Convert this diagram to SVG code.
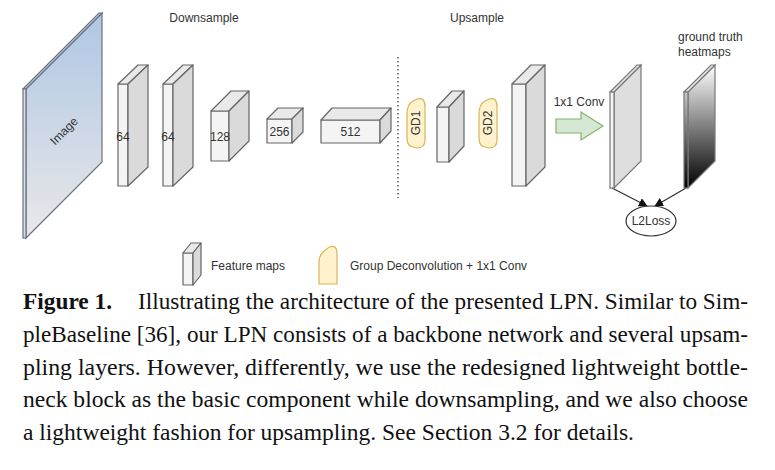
<svg xmlns="http://www.w3.org/2000/svg" width="775" height="470" viewBox="0 0 775 470">
<defs>
<linearGradient id="gImg" x1="0" y1="13" x2="0" y2="238" gradientUnits="userSpaceOnUse">
<stop offset="0" stop-color="#afc6e4"/><stop offset="1" stop-color="#e8e8e8"/>
</linearGradient>
<linearGradient id="gGT" x1="0" y1="65" x2="0" y2="188" gradientUnits="userSpaceOnUse">
<stop offset="0" stop-color="#ffffff"/><stop offset="1" stop-color="#000000"/>
</linearGradient>
<marker id="ah" viewBox="0 0 10 10" refX="9" refY="5" markerWidth="9" markerHeight="9" orient="auto" markerUnits="userSpaceOnUse">
<path d="M0,0 L10,5 L0,10 Z" fill="#111"/>
</marker>
<style>
.fr{fill:#f4f4f4;stroke:#666;stroke-width:1.2;stroke-linejoin:round}
.tp{fill:#e9e9e9;stroke:#666;stroke-width:1.2;stroke-linejoin:round}
.sd{fill:#dadada;stroke:#666;stroke-width:1.2;stroke-linejoin:round}
.lbl{font-family:"Liberation Sans",Arial,sans-serif;font-size:12px;fill:#333}
.gd{fill:#fff2cc;stroke:#d6b656;stroke-width:1.2}
.cap{font-family:"Liberation Serif","Times New Roman",serif;font-size:23px;fill:#111}
.con{stroke:#333;stroke-width:1.3;fill:none}
</style>
</defs>
<rect width="775" height="470" fill="#fff"/>

<text class="lbl" x="204" y="22" text-anchor="middle">Downsample</text>
<text class="lbl" x="477" y="22" text-anchor="middle">Upsample</text>

<g id="image">
<polygon points="26,89 102,13 102,162 26,238" fill="url(#gImg)" stroke="#6a7280" stroke-width="1.2"/>
<polygon points="23,89 26,89 102,13 99,13" fill="#c8d4e4" stroke="#6a7280" stroke-width="1.2"/>
<rect x="23" y="89" width="3" height="149" fill="#d8dde4" stroke="#6a7280" stroke-width="1.2"/>
<text class="lbl" x="64" y="135" text-anchor="middle" font-size="11" transform="rotate(-45 64 131)">Image</text>
</g>

<g id="b64a">
<rect class="fr" x="118" y="84" width="10" height="102"/>
<polygon class="tp" points="118,84 128,84 148,65 138,65"/>
<polygon class="sd" points="128,84 148,65 148,167 128,186"/>
<text class="lbl" x="123" y="141" text-anchor="middle">64</text>
</g>
<g id="b64b">
<rect class="fr" x="163" y="84" width="10" height="102"/>
<polygon class="tp" points="163,84 173,84 193,65 183,65"/>
<polygon class="sd" points="173,84 193,65 193,167 173,186"/>
<text class="lbl" x="168" y="141" text-anchor="middle">64</text>
</g>
<g id="b128">
<rect class="fr" x="211" y="111" width="18" height="50"/>
<polygon class="tp" points="211,111 229,111 249,91 231,91"/>
<polygon class="sd" points="229,111 249,91 249,141 229,161"/>
<text class="lbl" x="220" y="141" text-anchor="middle">128</text>
</g>
<g id="b256">
<rect class="fr" x="267" y="119" width="25" height="24"/>
<polygon class="tp" points="267,119 292,119 303,108 278,108"/>
<polygon class="sd" points="292,119 303,108 303,132 292,143"/>
<text class="lbl" x="279.5" y="136" text-anchor="middle">256</text>
</g>
<g id="b512">
<rect class="fr" x="321" y="120" width="59" height="23"/>
<polygon class="tp" points="321,120 380,120 391,108 332,108"/>
<polygon class="sd" points="380,120 391,108 391,131 380,143"/>
<text class="lbl" x="350.5" y="136" text-anchor="middle">512</text>
</g>

<g id="connectors">
<line x1="398" y1="57" x2="398" y2="198" stroke="#333" stroke-width="1.2" stroke-dasharray="1.5 2.5"/>
<polygon points="556,119 581,119 581,112 603,126 581,140 581,133 556,133" fill="#d5e8d4" stroke="#82b366" stroke-width="1.2"/>
<line class="con" x1="612" y1="188" x2="647" y2="206" marker-end="url(#ah)"/>
<line class="con" x1="686" y1="188" x2="655" y2="206" marker-end="url(#ah)"/>
</g>

<g id="gd1">
<path class="gd" d="M407,114 Q407,104 413,101 L417,99 Q425,97 425,106 L425,140 Q425,148 417,148 L413,147 Q407,146 407,138 Z"/>
<text class="lbl" x="416" y="123" text-anchor="middle" dominant-baseline="central" transform="rotate(-90 416 123)">GD1</text>
</g>
<g id="up1">
<rect class="fr" x="437" y="107" width="12" height="55"/>
<polygon class="tp" points="437,107 449,107 464,91 452,91"/>
<polygon class="sd" points="449,107 464,91 464,146 449,162"/>
</g>
<g id="gd2">
<path class="gd" d="M479,114 Q479,104 485,101 L489,99 Q497,97 497,106 L497,140 Q497,148 489,148 L485,147 Q479,146 479,138 Z"/>
<text class="lbl" x="488" y="123" text-anchor="middle" dominant-baseline="central" transform="rotate(-90 488 123)">GD2</text>
</g>
<g id="up2">
<rect class="fr" x="512" y="84" width="14" height="102"/>
<polygon class="tp" points="512,84 526,84 545,65 531,65"/>
<polygon class="sd" points="526,84 545,65 545,167 526,186"/>
</g>

<text class="lbl" x="579" y="106" text-anchor="middle">1x1 Conv</text>

<g id="output">
<polygon points="614,92 641,65 641,161 614,188" fill="#dedede" stroke="#777" stroke-width="1.2"/>
<polygon points="610,92 614,92 641,65 637,65" fill="#e8e8e8" stroke="#777" stroke-width="1.2"/>
<rect x="610" y="92" width="4" height="96" fill="#f6f6f6" stroke="#777" stroke-width="1.2"/>
</g>
<g id="gt">
<polygon points="688,92 715,65 715,161 688,188" fill="url(#gGT)" stroke="#777" stroke-width="1.2"/>
<polygon points="684,92 688,92 715,65 711,65" fill="#e8e8e8" stroke="#777" stroke-width="1.2"/>
<rect x="684" y="92" width="4" height="96" fill="url(#gGT)" stroke="#777" stroke-width="1.2"/>
<text class="lbl" x="678" y="41">ground truth</text>
<text class="lbl" x="678" y="56">heatmaps</text>
</g>
<g id="l2loss">
<ellipse cx="651" cy="221" rx="25" ry="15" fill="#fff" stroke="#333" stroke-width="1.2"/>
<text class="lbl" x="651" y="225" text-anchor="middle" font-size="11">L2Loss</text>
</g>

<g id="legend-fm">
<rect class="fr" x="183" y="253" width="10" height="32"/>
<polygon class="tp" points="183,253 193,253 201,243 191,243"/>
<polygon class="sd" points="193,253 201,243 201,275 193,285"/>
<text class="lbl" x="211" y="270">Feature maps</text>
</g>
<g id="legend-gd">
<path class="gd" d="M319,262 Q319,256 323,252 L328,248 Q337,243 337,254 L337,284 L319,284 Z"/>
<text class="lbl" x="350" y="270">Group Deconvolution + 1x1 Conv</text>
</g>

<g id="caption">
<text class="cap" x="23" y="309" font-weight="bold" textLength="89" lengthAdjust="spacingAndGlyphs">Figure 1.</text>
<text class="cap" x="138" y="309" textLength="610" lengthAdjust="spacingAndGlyphs">Illustrating the architecture of the presented LPN. Similar to Sim-</text>
<text class="cap" x="23" y="342" textLength="725" lengthAdjust="spacingAndGlyphs">pleBaseline [36], our LPN consists of a backbone network and several upsam-</text>
<text class="cap" x="23" y="375" textLength="725" lengthAdjust="spacingAndGlyphs">pling layers. However, differently, we use the redesigned lightweight bottle-</text>
<text class="cap" x="23" y="407" textLength="725" lengthAdjust="spacingAndGlyphs">neck block as the basic component while downsampling, and we also choose</text>
<text class="cap" x="23" y="440" textLength="611" lengthAdjust="spacingAndGlyphs">a lightweight fashion for upsampling. See Section 3.2 for details.</text>
</g>
</svg>
